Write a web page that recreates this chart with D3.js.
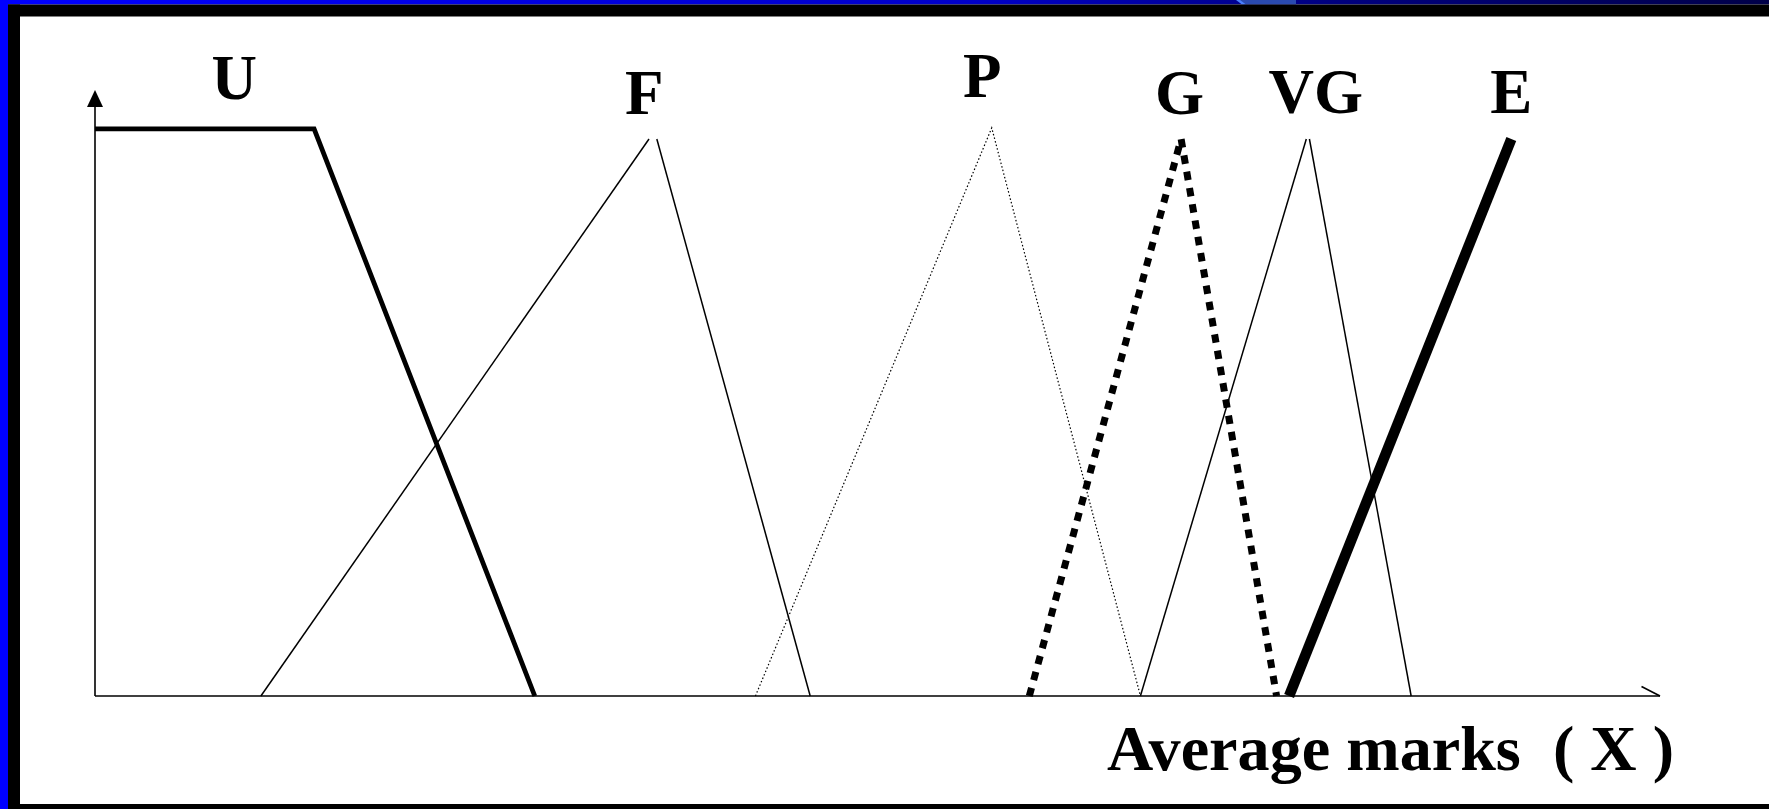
<!DOCTYPE html>
<html>
<head>
<meta charset="utf-8">
<script src="https://cdn.jsdelivr.net/npm/d3@7"></script>
<style>
  html, body { margin: 0; padding: 0; background: #fff; }
  svg { display: block; }
  text { font-family: "Liberation Serif", "Times New Roman", serif; font-weight: bold; fill: #000; }
</style>
</head>
<body>
<svg id="chart" width="1769" height="809"></svg>
<script>
// ---- data (x in average marks, y in membership grade) ----
const setNames = ["U", "F", "P", "G", "VG", "E"];
const setX = [
  [0, 14.0, 28.1],
  [10.6, 35.4, 35.9, 45.7],
  [42.2, 57.3, 66.8],
  [59.7, 69.4, 75.5],
  [66.8, 77.4, 77.6, 84.1],
  [76.3, 90.5]
];
const setY = [
  [1.018, 1.018, 0],
  [0, 1, 1, 0],
  [0, 1.02, 0],
  [0, 1, 0],
  [0, 1, 1, 0],
  [0, 1]
];
// segments drawn (point indices) - F and VG have open tops
const setSegments = [
  [[0, 1, 2]],
  [[0, 1], [2, 3]],
  [[0, 1, 2]],
  [[0, 1, 2]],
  [[0, 1], [2, 3]],
  [[0, 1]]
];
const labelX = [8.9, 35.1, 56.7, 69.3, 78.0, 90.5];
const labelLevel = [1.072, 1.045, 1.075, 1.045, 1.047, 1.047];
const axisTitle = "Average marks\u00A0\u00A0( X )";

// ---- styles ----
const styles = {
  U:  { width: 4.8, dash: null },
  F:  { width: 1.5, dash: null },
  P:  { width: 1.2, dash: "1.5,2.2" },
  G:  { width: 7,   dash: "8.5,8" },
  VG: { width: 1.5, dash: null },
  E:  { width: 10.5, dash: null }
};

const W = 1769, H = 809;
const svg = d3.select("#chart");

// ---- frame ----
const defs = svg.append("defs");
const grad = defs.append("linearGradient").attr("id", "topgrad").attr("x1", 0).attr("x2", 1).attr("y1", 0).attr("y2", 0);
grad.append("stop").attr("offset", "0").attr("stop-color", "#0000ff");
grad.append("stop").attr("offset", "0.55").attr("stop-color", "#0000c8");
grad.append("stop").attr("offset", "0.75").attr("stop-color", "#000080");
grad.append("stop").attr("offset", "1").attr("stop-color", "#000048");

svg.append("rect").attr("x", 0).attr("y", 0).attr("width", W).attr("height", H).attr("fill", "#fff");
svg.append("rect").attr("x", 0).attr("y", 0).attr("width", W).attr("height", 4.5).attr("fill", "url(#topgrad)");
svg.append("polygon").attr("points", "1238,0 1296,0 1296,4.5 1244,4.5").attr("fill", "#2a4ab0");
svg.append("polygon").attr("points", "1236,0 1240,0 1246,4.5 1242,4.5").attr("fill", "#4a80ff");
svg.append("rect").attr("x", 0).attr("y", 4.5).attr("width", W).attr("height", 12).attr("fill", "#000");
svg.append("rect").attr("x", 0).attr("y", 0).attr("width", 8).attr("height", H).attr("fill", "#0000ff");
svg.append("rect").attr("x", 8).attr("y", 4.5).attr("width", 12).attr("height", H).attr("fill", "#000");
svg.append("rect").attr("x", 8).attr("y", 804).attr("width", W).attr("height", 5).attr("fill", "#000");

// ---- scales ----
const x = d3.scaleLinear().domain([0, 100]).range([95, 1660]);
const y = d3.scaleLinear().domain([0, 1]).range([696, 139]);

// ---- axes ----
const g = svg.append("g");
g.append("line").attr("x1", x(0)).attr("x2", x(100)).attr("y1", y(0)).attr("y2", y(0))
  .attr("stroke", "#000").attr("stroke-width", 1.6);
g.append("line").attr("x1", x(100)).attr("y1", y(0)).attr("x2", x(100) - 18.5).attr("y2", y(0) - 9.5)
  .attr("stroke", "#000").attr("stroke-width", 1.6);
g.append("line").attr("x1", x(0)).attr("x2", x(0)).attr("y1", y(0)).attr("y2", y(1.06))
  .attr("stroke", "#000").attr("stroke-width", 1.6);
const tipY = y(1.088);
g.append("path")
  .attr("d", `M${x(0)},${tipY} L${x(0) - 8},${tipY + 17} L${x(0) + 8},${tipY + 17} Z`)
  .attr("fill", "#000");

// ---- membership functions ----
const line = d3.line().x(d => x(d[0])).y(d => y(d[1]));
setNames.forEach((name, i) => {
  const pts = setX[i].map((v, j) => [v, setY[i][j]]);
  const st = styles[name];
  setSegments[i].forEach(seg => {
    const p = g.append("path")
      .attr("d", line(seg.map(k => pts[k])))
      .attr("fill", "none")
      .attr("stroke", "#000")
      .attr("stroke-width", st.width)
      .attr("stroke-linejoin", "miter")
      .attr("stroke-linecap", "butt");
    if (st.dash) p.attr("stroke-dasharray", st.dash);
  });
});

// ---- labels ----
g.selectAll("text.lab").data(setNames).enter().append("text")
  .attr("class", "lab")
  .attr("x", (d, i) => x(labelX[i]))
  .attr("y", (d, i) => y(labelLevel[i]))
  .attr("text-anchor", "middle")
  .attr("font-size", 63)
  .text(d => d);

g.append("text")
  .attr("x", 1107).attr("y", 770)
  .attr("font-size", 64)
  .attr("textLength", 567)
  .attr("lengthAdjust", "spacingAndGlyphs")
  .text(axisTitle);
</script>
</body>
</html>
